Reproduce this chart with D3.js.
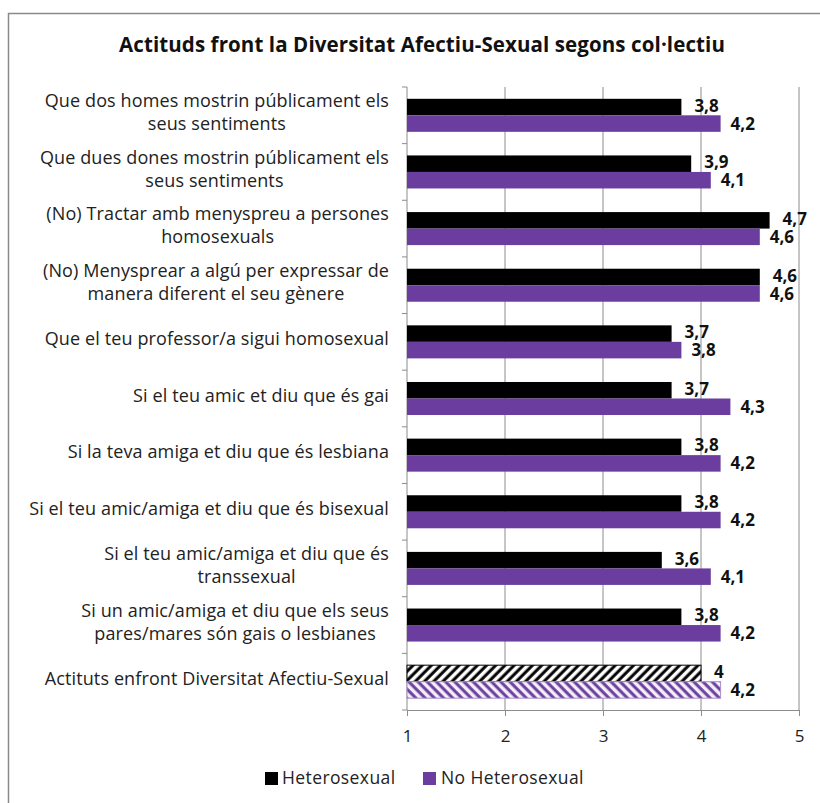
<!DOCTYPE html>
<html><head><meta charset="utf-8">
<script src="https://cdn.jsdelivr.net/npm/d3@7"></script>
<style>body{margin:0;background:#fff} svg{display:block}</style>
</head><body>
<svg id="chart" width="820" height="803"></svg>
<script>
const chartTitle = "Actituds front la Diversitat  Afectiu-Sexual segons col·lectiu";
const categories = [
  "Que dos homes mostrin públicament els\nseus sentiments",
  "Que dues dones mostrin públicament els\nseus sentiments",
  "(No) Tractar amb menyspreu a persones\nhomosexuals",
  "(No) Menysprear a algú per expressar de\nmanera diferent el seu gènere",
  "Que el teu professor/a sigui homosexual",
  "Si el teu amic et diu que és gai",
  "Si la teva amiga et diu que és lesbiana",
  "Si el teu amic/amiga et diu que és bisexual",
  "Si el teu amic/amiga et diu que és\ntranssexual",
  "Si un amic/amiga et diu que els seus\npares/mares són gais o lesbianes",
  "Actituts enfront Diversitat Afectiu-Sexual"
];
const heteroValues   = [3.8, 3.9, 4.7, 4.6, 3.7, 3.7, 3.8, 3.8, 3.6, 3.8, 4.0];
const noHeteroValues = [4.2, 4.1, 4.6, 4.6, 3.8, 4.3, 4.2, 4.2, 4.1, 4.2, 4.2];
const seriesNames = ["Heterosexual", "No Heterosexual"];
const xTicks = [1, 2, 3, 4, 5];

const svg = d3.select("#chart");
const BLACK = "#000000", PURPLE = "#6b3d9e";
const FONT = "'Open Sans', 'Noto Sans', sans-serif";
const pLeft = 407, pRight = 799, pTop = 87, pBottom = 710;

// border
svg.append("path").attr("d", "M8.5,803 V13.5 H820").attr("fill", "none")
  .attr("stroke", "#8a8a8a").attr("stroke-width", 1.5);

// patterns
const defs = svg.append("defs");
const p1 = defs.append("pattern").attr("id", "hatchBlack").attr("patternUnits", "userSpaceOnUse")
  .attr("width", 6.5).attr("height", 6.5).attr("patternTransform", "rotate(45)");
p1.append("rect").attr("width", 6.5).attr("height", 6.5).attr("fill", "#fff");
p1.append("line").attr("x1", 2).attr("x2", 2).attr("y1", 0).attr("y2", 6.5)
  .attr("stroke", BLACK).attr("stroke-width", 3);
const p2 = defs.append("pattern").attr("id", "hatchPurple").attr("patternUnits", "userSpaceOnUse")
  .attr("width", 6.5).attr("height", 6.5).attr("patternTransform", "rotate(-45)");
p2.append("rect").attr("width", 6.5).attr("height", 6.5).attr("fill", "#f4f0f8");
p2.append("line").attr("x1", 2).attr("x2", 2).attr("y1", 0).attr("y2", 6.5)
  .attr("stroke", PURPLE).attr("stroke-width", 3);

// title
svg.append("text").attr("x", 422).attr("y", 47).attr("text-anchor", "middle")
  .attr("dominant-baseline", "middle").attr("font-family", FONT).attr("font-weight", "bold")
  .attr("font-size", 20.5).attr("letter-spacing", 0.1).attr("fill", "#111").text(chartTitle);

const x = d3.scaleLinear().domain([1, 5]).range([pLeft, pRight]);
const y = d3.scaleBand().domain(categories).range([pTop, pBottom]).paddingInner(0.417).paddingOuter(0.2085);
const y1 = d3.scaleBand().domain(seriesNames).range([0, y.bandwidth()]);

// grid lines
svg.append("g").selectAll("line").data(xTicks.slice(1)).join("line")
  .attr("x1", d => x(d)).attr("x2", d => x(d)).attr("y1", pTop).attr("y2", pBottom)
  .attr("stroke", "#8c8c8c").attr("stroke-width", 1);

// bottom axis
const xAxis = svg.append("g").attr("transform", `translate(0,${pBottom})`)
  .call(d3.axisBottom(x).tickValues(xTicks).tickFormat(d3.format("d")).tickSize(6).tickPadding(14));
xAxis.select(".domain").attr("stroke", "#8c8c8c");
xAxis.selectAll(".tick line").attr("stroke", "#8c8c8c");
xAxis.selectAll("text").attr("font-family", FONT).attr("font-size", 17).attr("fill", "#222");

// left axis line + category ticks
const step = y.step();
const bounds = d3.range(categories.length + 1).map(i => pTop + i * step);
svg.append("line").attr("x1", pLeft).attr("x2", pLeft).attr("y1", pTop).attr("y2", pBottom)
  .attr("stroke", "#8c8c8c");
svg.append("g").selectAll("line").data(bounds).join("line")
  .attr("x1", pLeft - 5).attr("x2", pLeft).attr("y1", d => d).attr("y2", d => d)
  .attr("stroke", "#8c8c8c");

// category labels
const lastIdx = categories.length - 1;
const labelG = svg.append("g");
categories.forEach((c, i) => {
  const lines = c.split("\n");
  const cy = y(c) + y.bandwidth() / 2 - 1.5;
  const g = labelG.append("g");
  const texts = lines.map((ln, j) => g.append("text")
    .attr("y", cy + (j - (lines.length - 1) / 2) * 23)
    .attr("dominant-baseline", "middle").attr("text-anchor", "middle")
    .attr("font-family", FONT).attr("font-size", 18).attr("letter-spacing", 0.12)
    .attr("fill", "#222").text(ln));
  const w = d3.max(texts, t => t.node().getComputedTextLength());
  texts.forEach(t => t.attr("x", 389 - w / 2));
});

// bars
const rows = categories.map((c, i) => ({c, i, vals: [heteroValues[i], noHeteroValues[i]]}));
const gBars = svg.append("g");
rows.forEach(r => {
  r.vals.forEach((v, k) => {
    const s = seriesNames[k];
    const isSum = r.i === lastIdx;
    const fill = isSum ? (k === 0 ? "url(#hatchBlack)" : "url(#hatchPurple)") : (k === 0 ? BLACK : PURPLE);
    const by = y(r.c) + y1(s);
    gBars.append("rect").attr("x", x(1)).attr("y", by)
      .attr("width", x(v) - x(1)).attr("height", y1.bandwidth())
      .attr("fill", fill)
      .attr("stroke", isSum ? (k === 0 ? BLACK : "#a88fcc") : "none").attr("stroke-width", 1);
    const lbl = String(v).replace(".", ",");
    gBars.append("text")
      .attr("x", x(v) + (k === 0 ? 13 : 10))
      .attr("y", by + y1.bandwidth() / 2 + (k === 0 ? 0 : 1.5))
      .attr("dominant-baseline", "middle")
      .attr("font-family", FONT).attr("font-weight", "bold").attr("font-size", 17)
      .attr("fill", "#111").text(lbl);
  });
});

// legend
const legend = svg.append("g");
const legItems = [{name: seriesNames[0], color: BLACK, sx: 265, tx: 282},
                  {name: seriesNames[1], color: PURPLE, sx: 423, tx: 441}];
legItems.forEach(it => {
  legend.append("rect").attr("x", it.sx).attr("y", 772).attr("width", 13).attr("height", 13).attr("fill", it.color);
  legend.append("text").attr("x", it.tx).attr("y", 779).attr("dominant-baseline", "middle")
    .attr("font-family", FONT).attr("font-size", 17.5).attr("letter-spacing", 0.4)
    .attr("fill", "#222").text(it.name);
});
</script>
</body></html>
